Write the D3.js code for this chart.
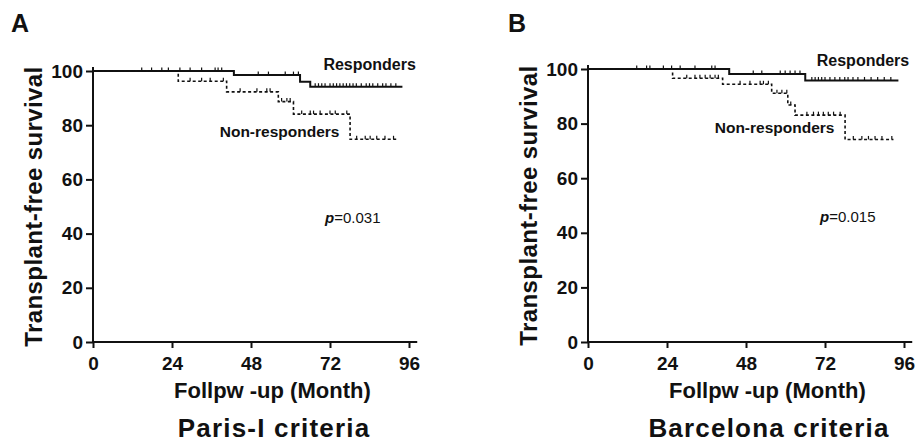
<!DOCTYPE html>
<html>
<head>
<meta charset="utf-8">
<script src="https://cdn.jsdelivr.net/npm/d3@7"></script>
<style>
  body { margin: 0; background: #fff; }
  text { font-family: "Liberation Sans", Arial, sans-serif; fill: #111; }
</style>
</head>
<body>
<svg id="chart"></svg>
<script>
// tick labels
let xTicks = [0, 24, 48, 72, 96];
let yTicks = [0, 20, 40, 60, 80, 100];

// Paris-I criteria (panel A) - step times and survival
let parisRespTimes = [0, 42.8, 62.9, 66, 94];
let parisRespSurv = [100, 98.5, 96.0, 94.2, 94.2];
let parisRespCensor = [14.8, 17.8, 20.9, 22.9, 26.4, 29.5, 33.0, 37.1, 38.0, 39.1,
  50.2, 53.3, 58.4, 60.9, 62.4,
  67.5, 68.5, 69.5, 70.5, 72, 73, 74, 75, 76, 77, 78, 79, 80, 81.5, 83, 84, 85, 86.5, 88, 89, 90.5, 92];
let parisNonTimes = [0, 25.9, 40.6, 56.3, 60.9, 78.1, 92.3];
let parisNonSurv = [100, 96.2, 92.3, 88.7, 84.1, 74.8, 74.8];
let parisNonCensor = [29.5, 33, 35.6, 39.6, 44.7, 49.8, 52.8, 53.8, 57.3, 58.9, 59.9,
  63.4, 66, 67, 69, 72, 73.6, 77.1, 80.1, 82.7, 84.2, 86.2, 88.7, 91.3];

// Barcelona criteria (panel B)
let barcaRespTimes = [0, 42.9, 66, 94.3];
let barcaRespSurv = [100, 98.2, 95.8, 95.8];
let barcaRespCensor = [14.8, 17.8, 18.8, 22.9, 25.4, 28, 32.5, 37.6, 38.6,
  50.2, 52.8, 58.4, 59.9, 61.4, 62.9, 64.4,
  68, 69, 70, 71, 72, 73.5, 75, 76.5, 78, 79, 80.5, 82, 84, 86, 88, 90, 92];
let barcaNonTimes = [0, 25.7, 40.9, 55.8, 60.7, 62.9, 78.1, 92.8];
let barcaNonSurv = [100, 96.6, 94.4, 91.1, 86.8, 83.1, 74.2, 74.2];
let barcaNonCensor = [30, 32.5, 34, 35.6, 37.1, 38.6, 39.6, 46.2, 49.2, 52.3, 53.3, 54.8,
  57.4, 58.9, 60.4, 61.6, 66.5, 68.5, 70, 71.5, 73, 74.6, 76.6,
  80.6, 83.2, 85.2, 87.2, 89.3, 92.3];

let width = 918;
let height = 446;

let svg = d3.select('#chart').attr('width', width).attr('height', height);

// look up survival level at time t from a step curve
let levelAt = (times, surv, t) => {
  let i = d3.bisectRight(times, t) - 1;
  return surv[Math.max(0, i)];
}

let drawPanel = (opt) => {
  let xScale = d3.scaleLinear().domain([0, 96]).range([opt.left, opt.left + 316]);
  let yScale = d3.scaleLinear().domain([0, 100]).range([342, opt.top]);

  let g = svg.append('g');

  // axes
  let xAxis = d3.axisBottom(xScale).tickValues(xTicks).tickSize(6).tickSizeOuter(0);
  let yAxis = d3.axisLeft(yScale).tickValues(yTicks).tickSize(7).tickSizeOuter(0);

  let gx = g.append('g').attr('transform', 'translate(0,' + yScale(0) + ')').call(xAxis);
  gx.select('.domain').attr('d', 'M' + xScale(0) + ',0H' + xScale(98.5)).attr('stroke-width', 2);
  gx.selectAll('.tick line').attr('stroke-width', 2).attr('y1', -1).attr('y2', 6);
  gx.selectAll('.tick text').attr('dy', null).attr('y', 28)
    .style('font-size', '19px').style('font-weight', 'bold');

  let gy = g.append('g').attr('transform', 'translate(' + xScale(0) + ',0)').call(yAxis);
  gy.select('.domain').attr('d', 'M0,' + yScale(0) + 'V' + yScale(101.5)).attr('stroke-width', 2);
  gy.selectAll('.tick line').attr('stroke-width', 2).attr('x1', 1).attr('x2', -7);
  gy.selectAll('.tick text').attr('x', -10)
    .style('font-size', '19px').style('font-weight', 'bold');
  g.selectAll('.domain, .tick line').attr('stroke', '#111');

  // step curves
  let line = d3.line()
    .x((d) => xScale(d[0]))
    .y((d) => yScale(d[1]))
    .curve(d3.curveStepAfter);

  let curves = [
    {times: opt.respTimes, surv: opt.respSurv, censor: opt.respCensor, dash: null, w: 2},
    {times: opt.nonTimes, surv: opt.nonSurv, censor: opt.nonCensor, dash: '3,2.5', w: 1.6}
  ];

  curves.forEach((c) => {
    let pts = c.times.map((t, i) => [t, c.surv[i]]);
    g.append('path')
      .attr('d', line(pts))
      .attr('fill', 'none')
      .attr('stroke', '#111')
      .attr('stroke-width', c.w)
      .attr('stroke-dasharray', c.dash);

    g.selectAll(null)
      .data(c.censor)
      .enter()
      .append('line')
      .attr('x1', (d) => xScale(d))
      .attr('x2', (d) => xScale(d))
      .attr('y1', (d) => yScale(levelAt(c.times, c.surv, d)))
      .attr('y2', (d) => yScale(levelAt(c.times, c.surv, d)) - 3.5)
      .attr('stroke', '#111')
      .attr('stroke-width', 1.2);
  });

  // panel letter
  g.append('text').attr('x', opt.letterX).attr('y', 32)
    .text(opt.letter).style('font-size', '25px').style('font-weight', 'bold');

  // axis titles
  g.append('text')
    .attr('transform', 'translate(' + (opt.left - 51) + ',' + yScale(50) + ') rotate(-90)')
    .attr('text-anchor', 'middle')
    .text('Transplant-free survival')
    .style('font-size', '24px').style('font-weight', 'bold').style('letter-spacing', '0.4px');

  g.append('text')
    .attr('x', xScale(54.5)).attr('y', 398)
    .attr('text-anchor', 'middle')
    .text('Follpw -up (Month)')
    .style('font-size', '22px').style('font-weight', 'bold');

  g.append('text')
    .attr('x', xScale(55)).attr('y', 437)
    .attr('text-anchor', 'middle')
    .text(opt.title)
    .style('font-size', '26px').style('font-weight', 'bold').style('letter-spacing', '1.2px');

  // curve labels
  g.append('text').attr('x', xScale(opt.respLabel[0])).attr('y', yScale(opt.respLabel[1]))
    .text('Responders').style('font-size', '16px').style('font-weight', 'bold');
  g.append('text').attr('x', xScale(opt.nonLabel[0])).attr('y', yScale(opt.nonLabel[1]))
    .text('Non-responders').style('font-size', '15.5px').style('font-weight', 'bold');

  // p value
  let p = g.append('text').attr('x', xScale(opt.pPos[0])).attr('y', yScale(opt.pPos[1]))
    .style('font-size', '15px');
  p.append('tspan').text('p').style('font-style', 'italic').style('font-weight', 'bold');
  p.append('tspan').text('=' + opt.p);
}

drawPanel({
  letter: 'A', letterX: 11, left: 93, top: 71, title: 'Paris-I criteria',
  respTimes: parisRespTimes, respSurv: parisRespSurv, respCensor: parisRespCensor,
  nonTimes: parisNonTimes, nonSurv: parisNonSurv, nonCensor: parisNonCensor,
  respLabel: [70, 100.5], nonLabel: [38.5, 75.5], pPos: [70.5, 43.9], p: '0.031'
});

drawPanel({
  letter: 'B', letterX: 508, left: 588, top: 69, title: 'Barcelona criteria',
  respTimes: barcaRespTimes, respSurv: barcaRespSurv, respCensor: barcaRespCensor,
  nonTimes: barcaNonTimes, nonSurv: barcaNonSurv, nonCensor: barcaNonCensor,
  respLabel: [69.5, 101], nonLabel: [38.5, 76.5], pPos: [70.5, 43.9], p: '0.015'
});
</script>
</body>
</html>
